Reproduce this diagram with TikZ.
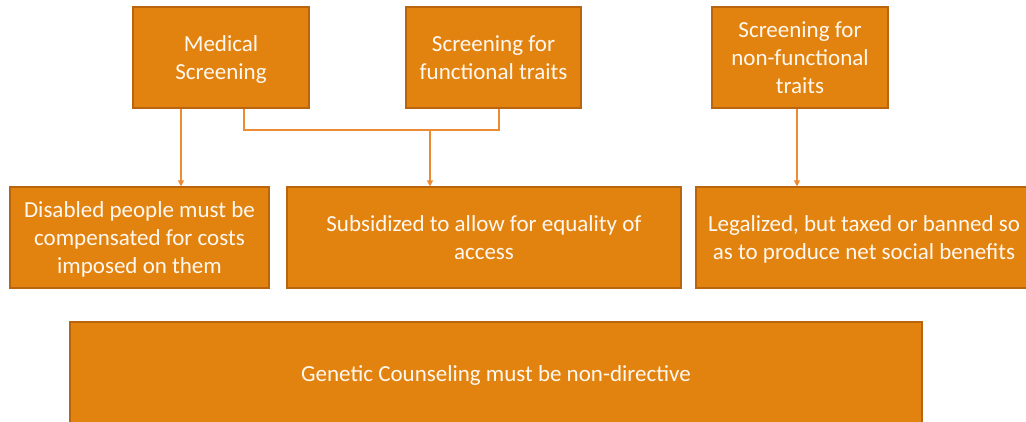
\documentclass[tikz,border=0pt]{standalone}
\usepackage{fontspec}
\setmainfont{Carlito}
\usetikzlibrary{arrows.meta}
\definecolor{boxfill}{HTML}{E3830F}
\definecolor{boxedge}{HTML}{B8650E}
\definecolor{linkcol}{HTML}{EC8B33}
\definecolor{textcol}{HTML}{FFF8F0}
% centred lines of box text, set a little low as in slide text frames
\newcommand{\boxlines}[1]{\raisebox{-2.5pt}[\height][\depth]{\begin{tabular}{@{}c@{}}#1\end{tabular}}}
\begin{document}
\begin{tikzpicture}[x=1pt,y=-1pt,
  box/.style={draw=boxedge, fill=boxfill, line width=1.2pt, text=textcol,
    inner sep=0pt, minimum height=101pt,
    font=\fontsize{23}{28}\selectfont},
  link/.style={draw=linkcol, line width=1.3pt},
  arr/.style={link, -{Triangle[width=6pt,length=6pt]}}]
\useasboundingbox (0,0) rectangle (1026,421);
\begin{scope}
\clip (0,0) rectangle (1026,421);
% top row: screening types
\node[box, minimum width=176pt] (med)  at (221,57.5)   {\boxlines{Medical\\Screening}};
\node[box, minimum width=175pt] (func) at (493.5,57.5) {\boxlines{Screening for\\functional traits}};
\node[box, minimum width=176pt] (nonf) at (800,57.5)   {\boxlines{Screening for\\non-functional\\traits}};
% middle row: policies
\node[box, minimum width=259pt] (dis) at (139.5,237.5) {\boxlines{Disabled people must be\\compensated for costs\\imposed on them}};
\node[box, minimum width=394pt] (sub) at (484,237.5)   {\boxlines{Subsidized to allow for equality of\\access}};
\node[box, minimum width=336pt] (leg) at (864,237.5)   {\boxlines{Legalized, but taxed or banned so\\as to produce net social benefits}};
% bottom: counseling
\node[box, minimum width=852pt, minimum height=102pt] (gen) at (496,373) {\boxlines{Genetic Counseling must be non-directive}};
\end{scope}
% connectors
\coordinate (jl) at (244,130);
\coordinate (jr) at (499,130);
\coordinate (jm) at (430,130);
\draw[arr] (med.south -| 181,0) -- (dis.north -| 181,0);
\draw[link] (med.south -| jl) -- (jl) -- (jr) -- (func.south -| jr);
\draw[arr] (jm) -- (sub.north -| jm);
\draw[arr] (nonf.south -| 797,0) -- (leg.north -| 797,0);
\end{tikzpicture}
\end{document}
